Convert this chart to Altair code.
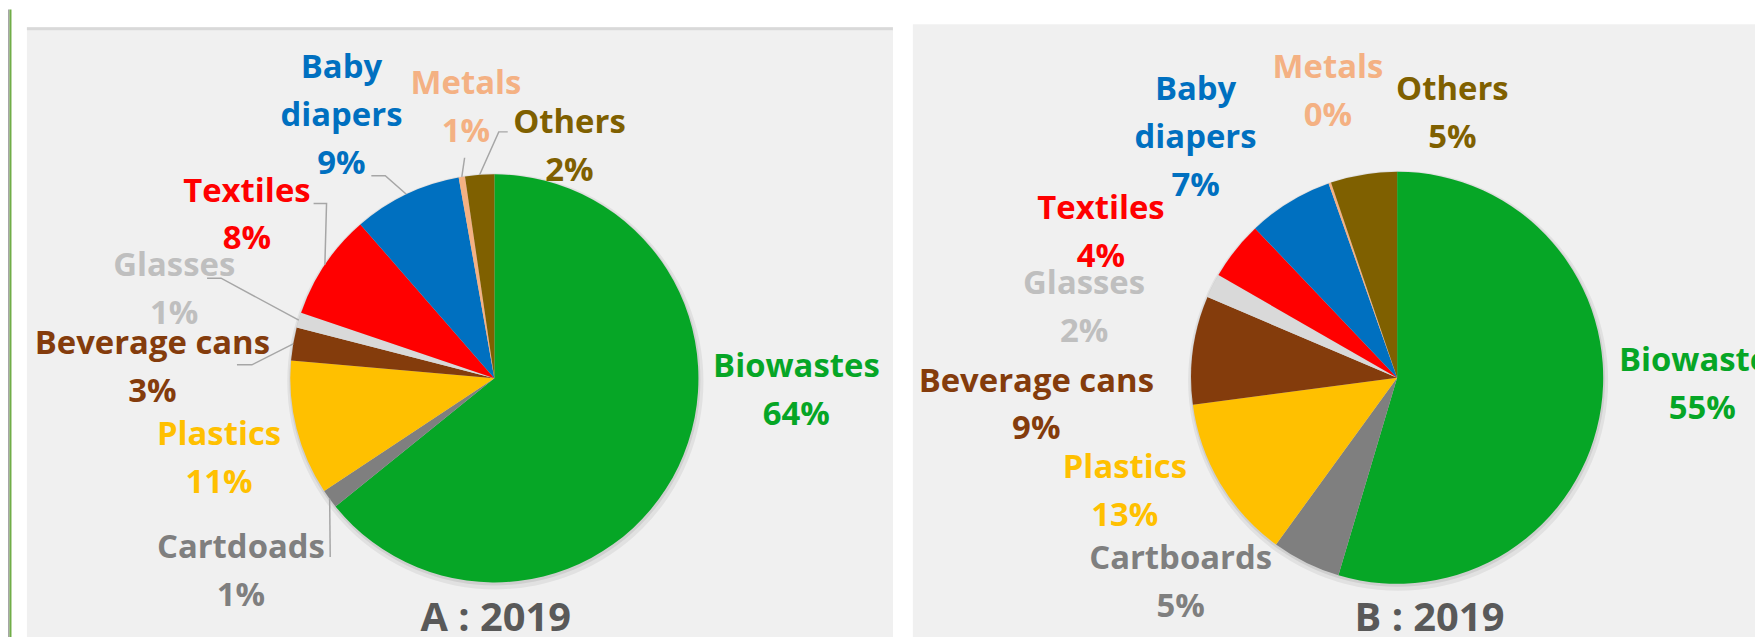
import altair as alt
import pandas as pd
import numpy as np

# ---------------- data ----------------
cats_a = ["Biowastes", "Cartdoads", "Plastics", "Beverage cans", "Glasses",
          "Textiles", "Baby diapers", "Metals", "Others"]
share_a = [64.2, 1.5, 10.7, 2.6, 1.2, 8.4, 8.6, 0.5, 2.3]
pct_a = ["64%", "1%", "11%", "3%", "1%", "8%", "9%", "1%", "2%"]

cats_b = ["Biowastes", "Cartboards", "Plastics", "Beverage cans", "Glasses",
          "Textiles", "Baby diapers", "Metals", "Others"]
share_b = [54.6, 5.4, 12.9, 8.5, 1.9, 4.6, 6.7, 0.2, 5.2]
pct_b = ["55%", "5%", "13%", "9%", "2%", "4%", "7%", "0%", "5%"]

titles = ["A : 2019", "B : 2019"]

# ---------------- styles ----------------
slice_colors = ["#06A626", "#7F7F7F", "#FFC000", "#843C0C", "#D9D9D9",
                "#FF0000", "#0070C0", "#F4B183", "#7F6000"]
text_colors = ["#06A626", "#7F7F7F", "#FFC000", "#843C0C", "#BFBFBF",
               "#FF0000", "#0070C0", "#F4B183", "#7F6000"]
FONT = "Open Sans"

# ---------------- layout (image pixel coordinates) ----------------
OX, OY = 8, 8
W, H = 1755, 629
centers = [(496.6, 378.6), (1403.5, 378.0)]
radii = [205, 207]
lab_a_x = [800, 242, 220, 153, 175, 248, 343, 468, 572]
lab_a_y = [377, 559, 446, 354, 276, 201, 77, 93, 132]
lab_b_x = [1710, 1186, 1130, 1041, 1089, 1106, 1201, 1334, 1459]
lab_b_y = [371, 570, 479, 392, 294, 219, 99, 77, 99]
title_x = [498, 1436]
title_y = 632
# leader lines of panel A: label-side points, the slice-side end comes from the data
leaders_a = {
    1: [(331.7, 558)],
    3: [(238, 365), (253, 365)],
    4: [(208, 278), (222, 278)],
    5: [(315, 203), (328, 203)],
    6: [(373, 175), (387, 175)],
    7: [(466.7, 157)],
    8: [(510, 131), (501, 131)],
}

xs = alt.Scale(domain=[OX, OX + W], nice=False, zero=False)
ys = alt.Scale(domain=[OY, OY + H], reverse=True, nice=False, zero=False)

# ---------------- panels ----------------
panels = pd.DataFrame({
    "x": [27, 27, 917, 8, 9.5],
    "x2": [897, 897, 1763, 9.5, 11.5],
    "y": [26, 26, 23, 8, 8],
    "y2": [640, 29, 640, 640, 640],
    "c": ["#F0F0F0", "#D9D9D9", "#F0F0F0", "#A6A6A6", "#70AD47"],
})
bg = alt.Chart(panels).mark_rect().encode(
    x=alt.X("x:Q", scale=xs, axis=None), x2="x2:Q",
    y=alt.Y("y:Q", scale=ys, axis=None), y2="y2:Q",
    color=alt.Color("c:N", scale=None),
)

layers = [bg]

# ---------------- pies ----------------
for (cx, cy), r, cats, share in zip(centers, radii, [cats_a, cats_b], [share_a, share_b]):
    shadow = alt.Chart(pd.DataFrame({"k": [1]})).mark_arc(
        radius=r + 4, theta=0, theta2=2 * np.pi, color="#000000", opacity=0.06
    ).encode(x=alt.value(cx - OX + 1), y=alt.value(cy - OY + 3))
    shadow2 = alt.Chart(pd.DataFrame({"k": [1]})).mark_arc(
        radius=r + 1.5, theta=0, theta2=2 * np.pi, color="#000000", opacity=0.08
    ).encode(x=alt.value(cx - OX + 0.5), y=alt.value(cy - OY + 1.5))
    df = pd.DataFrame({"cat": cats, "share": share, "slot": list(range(len(cats))),
                       "c": slice_colors})
    pie = alt.Chart(df).mark_arc(radius=r).encode(
        theta=alt.Theta("share:Q", stack=True),
        color=alt.Color("c:N", scale=None),
        order=alt.Order("slot:Q"),
        x=alt.value(cx - OX), y=alt.value(cy - OY),
    )
    layers += [shadow, shadow2, pie]

# ---------------- leader lines (panel A) ----------------
cxa, cya = centers[0]
ra = radii[0]
cum = np.cumsum(share_a) - np.array(share_a) / 2.0
ang = cum / np.sum(share_a) * 2 * np.pi
rows = []
for idx, pts in leaders_a.items():
    seq = 0
    for (px, py) in pts:
        rows.append({"lid": idx, "seq": seq, "x": px, "y": py})
        seq += 1
    rows.append({"lid": idx, "seq": seq,
                 "x": cxa + ra * np.sin(ang[idx]), "y": cya - ra * np.cos(ang[idx])})
lead = alt.Chart(pd.DataFrame(rows)).mark_line(color="#A6A6A6", strokeWidth=1.5).encode(
    x=alt.X("x:Q", scale=xs, axis=None),
    y=alt.Y("y:Q", scale=ys, axis=None),
    detail="lid:N", order="seq:Q",
)
layers.append(lead)

# ---------------- labels ----------------
def label_text(name, pct):
    return name.replace("Baby ", "Baby\n") + "\n" + pct

lab = pd.DataFrame({
    "x": lab_a_x + lab_b_x,
    "y": lab_a_y + lab_b_y,
    "t": [label_text(n, p) for n, p in zip(cats_a, pct_a)] +
         [label_text(n, p) for n, p in zip(cats_b, pct_b)],
    "c": text_colors + text_colors,
})
labels = alt.Chart(lab).mark_text(
    font=FONT, fontSize=33, fontWeight="bold", align="center",
    baseline="alphabetic", lineBreak="\n", lineHeight=48,
).encode(
    x=alt.X("x:Q", scale=xs, axis=None),
    y=alt.Y("y:Q", scale=ys, axis=None),
    text="t:N",
    color=alt.Color("c:N", scale=None),
)
layers.append(labels)

tt = pd.DataFrame({"x": title_x, "y": [title_y, title_y], "t": titles})
title_layer = alt.Chart(tt).mark_text(
    font=FONT, fontSize=40, fontWeight="bold", align="center",
    baseline="alphabetic", color="#595959",
).encode(
    x=alt.X("x:Q", scale=xs, axis=None),
    y=alt.Y("y:Q", scale=ys, axis=None),
    text="t:N",
)
layers.append(title_layer)

chart = alt.layer(*layers).resolve_scale(theta="independent", color="independent").properties(
    width=W, height=H,
    autosize=alt.AutoSizeParams(type="none"),
    padding=0,
    background="white",
).configure_view(stroke=None)

chart.save("out.html", embed_options={"renderer": "svg", "actions": False})
